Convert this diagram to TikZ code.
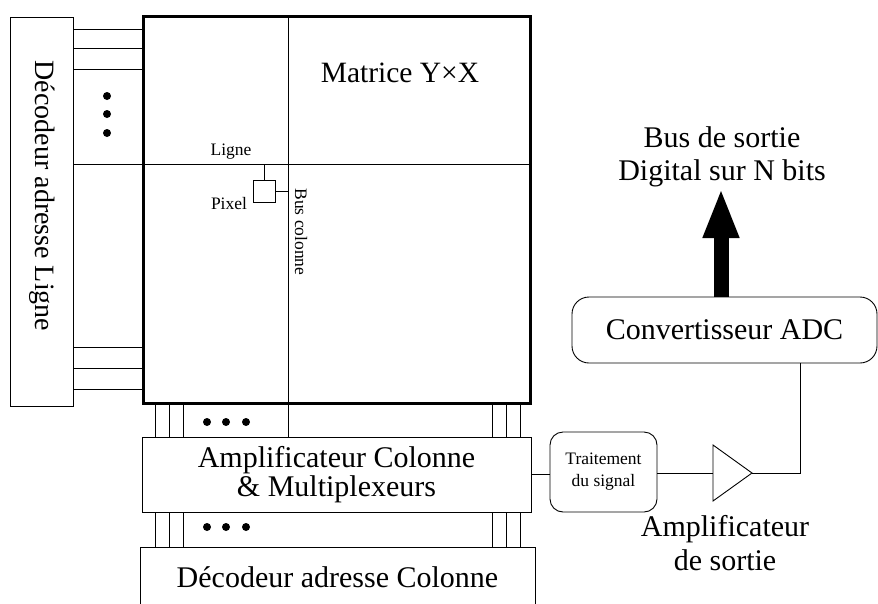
\documentclass[tikz,border=0pt]{standalone}
\usepackage{fontspec}
\setmainfont{Liberation Serif}
\usetikzlibrary{arrows.meta}
\tikzset{
  blk/.style    = {draw, line width=0.9pt, inner sep=0pt, outer sep=0pt},
  matbox/.style = {draw, line width=3pt, inner sep=0pt, outer sep=0pt},
  rbox/.style   = {blk, rounded corners=13pt},
  wire/.style   = {line width=0.9pt},
  big/.style    = {font=\fontsize{30}{29}\selectfont, align=center, inner sep=0pt},
  small/.style  = {font=\fontsize{17.5}{22}\selectfont, align=center, inner sep=0pt},
  bus/.style    = {line width=15pt, -{Triangle[length=50pt,width=33pt]}},
}
\begin{document}
\begin{tikzpicture}[x=1pt,y=-1pt]
\path[use as bounding box] (0,0) rectangle (878,603);

% ---- decoders and matrix ----------------------------------------------
\node[blk, minimum width=63, minimum height=389] (decL) at (41.5,211.5) {};
\node[big, font=\fontsize{28}{28}\selectfont, rotate=-90] (decLtxt) at (42,196) {Décodeur adresse Ligne};

\node[matbox, minimum width=387, minimum height=387] (mat) at (336.5,209.5) {};
\node[big, font=\fontsize{29.5}{29}\selectfont] (mattxt) at (400,73) {Matrice Y×X};

\node[blk, big, minimum width=389, minimum height=75] (amp) at (336.5,474.5)
  {Amplificateur Colonne\\\& Multiplexeurs};
\node[blk, big, minimum width=395, minimum height=60] (decC) at (337.5,577)
  {Décodeur adresse Colonne};

% row lines
\foreach \y in {29.7,48.3,69.7,347.7,368,389.3}
  \draw[wire] (decL.east |- 0,\y) -- (mat.west |- 0,\y);
\draw[wire] (decL.east |- 0,164) -- (mat.east |- 0,164);
\draw[wire] (mat.north -| 288,0) -- (amp.north -| 288,0);

% column lines
\foreach \x in {155,169,183,492,506,520} {
  \draw[wire] (mat.south -| \x,0) -- (amp.north -| \x,0);
  \draw[wire] (amp.south -| \x,0) -- (decC.north -| \x,0);
}

\foreach \y in {96,114,133} \fill (107,\y) circle (4);
\foreach \x in {207,226,246} {
  \fill (\x,422) circle (4);
  \fill (\x,527) circle (4);
}

% ---- pixel ------------------------------------------------------------
\node[blk, minimum size=22] (pix) at (264,191) {};
\draw[wire] (pix.north) -- (pix.north |- 0,164);
\draw[wire] (pix.east) -- (pix.east -| 288,0);
\node[small] (lignetxt) at (231,152) {Ligne};
\node[small] (pixtxt) at (229,204) {Pixel};
\node[small, rotate=-90] (bustxt) at (301,232) {Bus colonne};

% ---- output chain -----------------------------------------------------
\node[rbox, small, minimum width=107, minimum height=80] (trt) at (603.5,472) {Traitement\\du signal};
\node[rbox, big, rounded corners=17pt, minimum width=305, minimum height=66] (adc) at (724.5,330)
  {Convertisseur ADC};

\draw[wire] (amp.east) -- (trt.west |- amp.east);
\coordinate (ampin) at (713,473);
\coordinate (ampout) at (752,473);
\coordinate (bend) at (800,473);
\draw[wire] (713,445) -- (ampout) -- (713,501) -- cycle;
\draw[wire] (trt.east |- ampin) -- (ampin);
\draw[wire] (ampout) -- (bend) -- (bend |- adc.south);
\node[big, font=\fontsize{30}{34}\selectfont] (amptxt) at (725,543) {Amplificateur\\de sortie};

\coordinate (busend) at (721,188);
\draw[bus] (adc.north -| busend) -- (busend);
\node[big, font=\fontsize{30}{33}\selectfont] (bustitle) at (722,157) {Bus de sortie\\Digital sur N bits};

\end{tikzpicture}
\end{document}
